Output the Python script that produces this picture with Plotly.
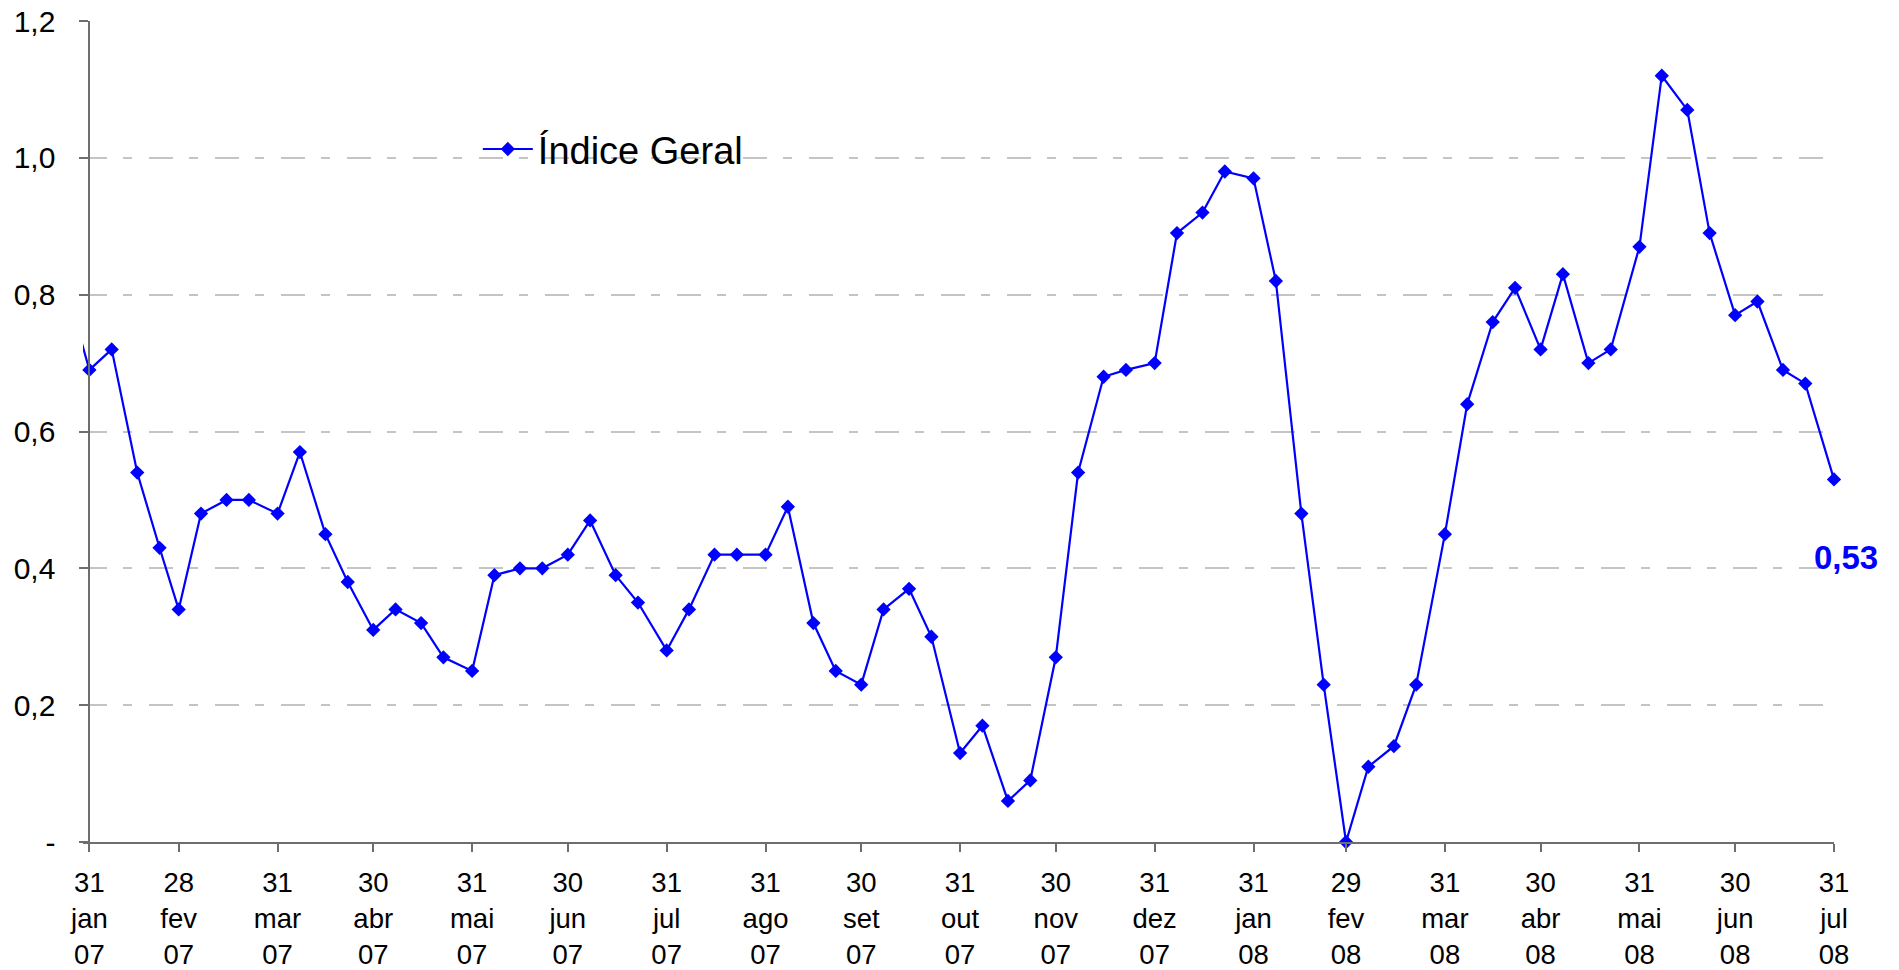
import plotly.graph_objects as go
import pandas as pd

# Data: FIPE-style quadrissemana readings (Índice Geral, %)
dates = [
    "2007-01-22", "2007-01-31",
    "2007-02-07", "2007-02-15", "2007-02-22", "2007-02-28",
    "2007-03-07", "2007-03-15", "2007-03-22", "2007-03-31",
    "2007-04-07", "2007-04-15", "2007-04-22", "2007-04-30",
    "2007-05-07", "2007-05-15", "2007-05-22", "2007-05-31",
    "2007-06-07", "2007-06-15", "2007-06-22", "2007-06-30",
    "2007-07-07", "2007-07-15", "2007-07-22", "2007-07-31",
    "2007-08-07", "2007-08-15", "2007-08-22", "2007-08-31",
    "2007-09-07", "2007-09-15", "2007-09-22", "2007-09-30",
    "2007-10-07", "2007-10-15", "2007-10-22", "2007-10-31",
    "2007-11-07", "2007-11-15", "2007-11-22", "2007-11-30",
    "2007-12-07", "2007-12-15", "2007-12-22", "2007-12-31",
    "2008-01-07", "2008-01-15", "2008-01-22", "2008-01-31",
    "2008-02-07", "2008-02-15", "2008-02-22", "2008-02-29",
    "2008-03-07", "2008-03-15", "2008-03-22", "2008-03-31",
    "2008-04-07", "2008-04-15", "2008-04-22", "2008-04-30",
    "2008-05-07", "2008-05-15", "2008-05-22", "2008-05-31",
    "2008-06-07", "2008-06-15", "2008-06-22", "2008-06-30",
    "2008-07-07", "2008-07-15", "2008-07-22", "2008-07-31",
]
indice_geral = [
    0.84, 0.69,
    0.72, 0.54, 0.43, 0.34,
    0.48, 0.50, 0.50, 0.48,
    0.57, 0.45, 0.38, 0.31,
    0.34, 0.32, 0.27, 0.25,
    0.39, 0.40, 0.40, 0.42,
    0.47, 0.39, 0.35, 0.28,
    0.34, 0.42, 0.42, 0.42,
    0.49, 0.32, 0.25, 0.23,
    0.34, 0.37, 0.30, 0.13,
    0.17, 0.06, 0.09, 0.27,
    0.54, 0.68, 0.69, 0.70,
    0.89, 0.92, 0.98, 0.97,
    0.82, 0.48, 0.23, 0.00,
    0.11, 0.14, 0.23, 0.45,
    0.64, 0.76, 0.81, 0.72,
    0.83, 0.70, 0.72, 0.87,
    1.12, 1.07, 0.89, 0.77,
    0.79, 0.69, 0.67, 0.53,
]

tick_dates = [
    "2007-01-31", "2007-02-28", "2007-03-31", "2007-04-30", "2007-05-31",
    "2007-06-30", "2007-07-31", "2007-08-31", "2007-09-30", "2007-10-31",
    "2007-11-30", "2007-12-31", "2008-01-31", "2008-02-29", "2008-03-31",
    "2008-04-30", "2008-05-31", "2008-06-30", "2008-07-31",
]
tick_labels = [
    "31<br>jan<br>07", "28<br>fev<br>07", "31<br>mar<br>07", "30<br>abr<br>07",
    "31<br>mai<br>07", "30<br>jun<br>07", "31<br>jul<br>07", "31<br>ago<br>07",
    "30<br>set<br>07", "31<br>out<br>07", "30<br>nov<br>07", "31<br>dez<br>07",
    "31<br>jan<br>08", "29<br>fev<br>08", "31<br>mar<br>08", "30<br>abr<br>08",
    "31<br>mai<br>08", "30<br>jun<br>08", "31<br>jul<br>08",
]
y_tickvals = [0, 0.2, 0.4, 0.6, 0.8, 1.0, 1.2]
y_ticktext = ["-", "0,2", "0,4", "0,6", "0,8", "1,0", "1,2"]

BLUE = "#0000FF"
FONT = "Liberation Sans, Arial, sans-serif"
AXIS = "#6e6e6e"

x_start = pd.Timestamp("2007-01-29")
x_end = pd.Timestamp("2008-07-31")
y_axis_date = pd.Timestamp(tick_dates[0])
y_pos = (y_axis_date - x_start) / (x_end - x_start)

fig = go.Figure()
fig.add_trace(go.Scatter(
    x=dates, y=indice_geral, mode="lines+markers", name="Índice Geral",
    line=dict(color=BLUE, width=2.2),
    marker=dict(symbol="diamond", size=11, color=BLUE),
    cliponaxis=False,
))

last_label = f"{indice_geral[-1]:.2f}".replace(".", ",")
fig.add_annotation(
    x=dates[-1], y=indice_geral[-1], text=f"<b>{last_label}</b>",
    showarrow=False, xshift=12, yshift=-78,
    font=dict(family=FONT, size=33, color=BLUE),
)

fig.update_layout(
    width=1899, height=970,
    margin=dict(l=83, r=65, t=21, b=128, autoexpand=False),
    paper_bgcolor="white", plot_bgcolor="white",
    font=dict(family=FONT, size=28, color="black"),
    showlegend=True,
    legend=dict(
        x=0.2255, y=0.8437, xanchor="left", yanchor="middle",
        font=dict(family=FONT, size=38, color="black"),
        bgcolor="rgba(0,0,0,0)", itemwidth=50,
    ),
    xaxis=dict(
        type="date", range=[x_start, x_end],
        tickvals=tick_dates, ticktext=tick_labels,
        showgrid=False, zeroline=False, automargin=False,
        showline=True, linecolor=AXIS, linewidth=2,
        ticks="outside", ticklen=8, tickwidth=2, tickcolor=AXIS,
        ticklabelstandoff=7,
        tickfont=dict(family=FONT, size=27.5, color="black"),
    ),
    yaxis=dict(
        range=[0, 1.2], tickvals=y_tickvals, ticktext=y_ticktext,
        anchor="free", position=y_pos, automargin=False,
        showgrid=True, gridcolor="#c4c4c4", gridwidth=1.5,
        griddash="24px,16px,9px,17px",
        zeroline=False,
        showline=True, linecolor=AXIS, linewidth=2,
        ticks="outside", ticklen=9, tickwidth=2, tickcolor=AXIS,
        ticklabelstandoff=18,
        tickfont=dict(family=FONT, size=30, color="black"),
    ),
)

fig.write_html(
    "out.html",
    config={"displayModeBar": False},
    post_script="document.body.style.margin='0';",
)
